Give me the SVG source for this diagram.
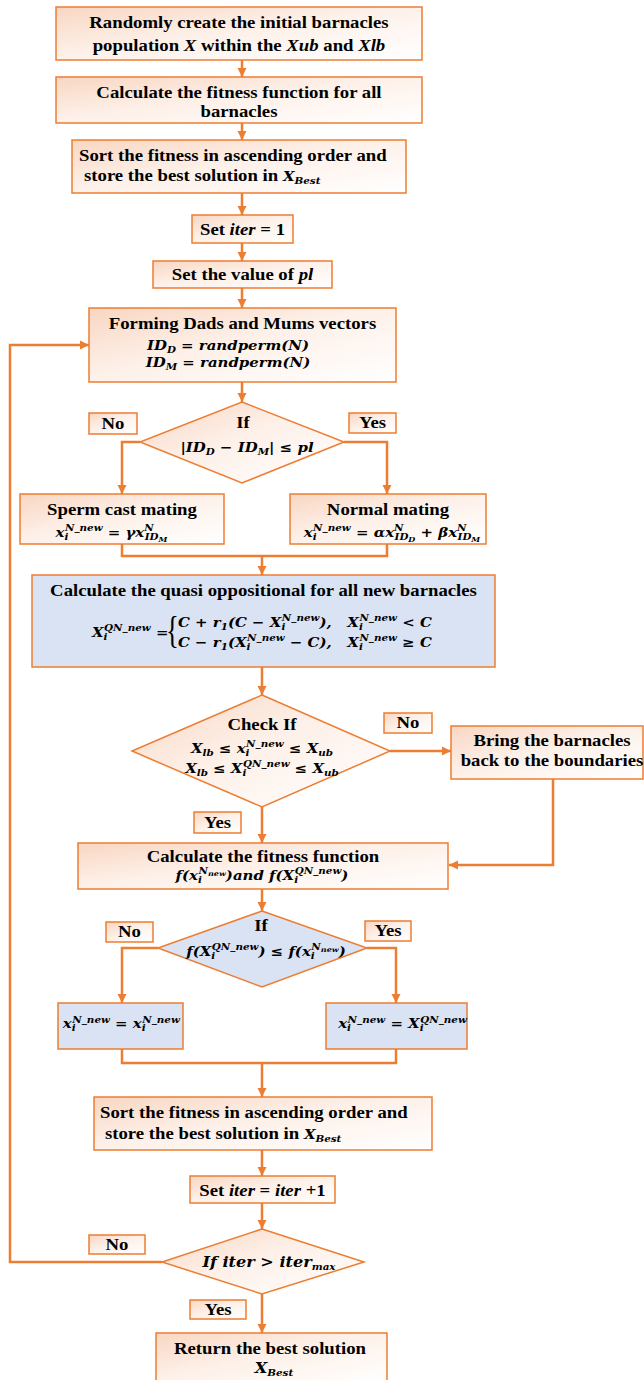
<svg xmlns="http://www.w3.org/2000/svg" width="644" height="1380" viewBox="0 0 644 1380">
<defs>
<linearGradient id="pg" x1="0" y1="0" x2="1" y2="1">
<stop offset="0" stop-color="#f9d6c2"/>
<stop offset="0.45" stop-color="#fdf0e8"/>
<stop offset="1" stop-color="#ffffff"/>
</linearGradient>
<marker id="ah" markerUnits="userSpaceOnUse" viewBox="0 0 10 10" refX="10" refY="5" markerWidth="9" markerHeight="10" orient="auto">
<path d="M0,0 L10,5 L0,10 z" fill="#ed7d31"/>
</marker>
<style>
.bx{fill:url(#pg);stroke:#ed7d31;stroke-width:1.5}
.bl{fill:#dae3f3;stroke:#ed7d31;stroke-width:1.5}
.lb{fill:url(#pg);stroke:#ed7d31;stroke-width:1.5}
.cn{fill:none;stroke:#ed7d31;stroke-width:2.5}
.ar{marker-end:url(#ah)}
.t{font-family:"Liberation Serif","Times New Roman",serif;font-weight:bold;font-size:16.3px;fill:#000}
.c{text-anchor:middle}
.i{font-style:italic}
.m{font-family:"DejaVu Serif",serif;font-weight:bold;font-style:italic;font-size:13px;fill:#000}
.s{font-size:9px}
.ss{font-size:7px}
.br{font-family:"Liberation Serif",serif;font-size:38px;fill:#000}
</style>
</defs>

<g id="connectors">
<path class="cn ar" d="M242,60 V77"/>
<path class="cn ar" d="M242,123 V140"/>
<path class="cn ar" d="M242,193 V215"/>
<path class="cn ar" d="M242,243 V261"/>
<path class="cn ar" d="M242,288 V308"/>
<path class="cn ar" d="M242,382 V402"/>
<path class="cn ar" d="M140,442 H122 V494"/>
<path class="cn ar" d="M344,442 H387 V494"/>
<path class="cn" d="M122,544 V556 H387 V544"/>
<path class="cn ar" d="M262,556 V575"/>
<path class="cn ar" d="M262,667 V695"/>
<path class="cn ar" d="M390,751 H451"/>
<path class="cn ar" d="M262,807 V843"/>
<path class="cn ar" d="M553,779 V865 H449"/>
<path class="cn ar" d="M262,889 V911"/>
<path class="cn ar" d="M158,948 H122 V1003"/>
<path class="cn ar" d="M367,948 H396 V1003"/>
<path class="cn" d="M122,1049 V1063 H396 V1049"/>
<path class="cn ar" d="M262,1063 V1097"/>
<path class="cn ar" d="M262,1150 V1176"/>
<path class="cn ar" d="M262,1203 V1229"/>
<path class="cn ar" d="M162,1262 H10 V345 H89"/>
<path class="cn ar" d="M262,1294 V1333"/>
</g>

<g id="n1"><rect class="bx" x="56" y="7" width="366" height="53"/>
<g transform="scale(1.15 1)">
<text class="t c" x="207.8" y="28">Randomly create the initial barnacles</text>
<text class="t c" x="207.8" y="51">population <tspan class="i">X</tspan> within the <tspan class="i">Xub</tspan> and <tspan class="i">Xlb</tspan></text>
</g></g>

<g id="n2"><rect class="bx" x="56" y="77" width="366" height="46"/>
<g transform="scale(1.15 1)">
<text class="t c" x="207.8" y="98">Calculate the fitness function for all</text>
<text class="t c" x="207.8" y="117">barnacles</text>
</g></g>

<g id="n3"><rect class="bx" x="72" y="140" width="334" height="53"/>
<g transform="scale(1.15 1)">
<text class="t" x="68.7" y="161">Sort the fitness in ascending order and</text>
<text class="t" x="73.04" y="181">store the best solution in <tspan class="m">X</tspan><tspan class="m s" dy="3">Best</tspan></text>
</g></g>

<g id="n4"><rect class="bx" x="192" y="215" width="101" height="28"/>
<g transform="scale(1.15 1)">
<text class="t c" x="210.87" y="235">Set <tspan class="i">iter</tspan> = 1</text>
</g></g>

<g id="n5"><rect class="bx" x="153" y="261" width="179" height="27"/>
<g transform="scale(1.15 1)">
<text class="t c" x="210.87" y="280">Set the value of <tspan class="i">pl</tspan></text>
</g></g>

<g id="n6"><rect class="bx" x="89" y="308" width="307" height="74"/>
<g transform="scale(1.15 1)">
<text class="t c" x="210.87" y="329">Forming Dads and Mums vectors</text>
<text class="m c" x="198.26" y="350">ID<tspan class="s" dy="3">D</tspan><tspan dy="-3"> = randperm(N)</tspan></text>
<text class="m c" x="198.26" y="367">ID<tspan class="s" dy="3">M</tspan><tspan dy="-3"> = randperm(N)</tspan></text>
</g></g>

<g id="d1"><polygon class="bx" points="242,402 344,442 242,483 140,442"/>
<g transform="scale(1.15 1)">
<text class="t c" x="211.3" y="428">If</text>
<text class="m c" x="214.78" y="452">|ID<tspan class="s" dy="3">D</tspan><tspan dy="-3"> − ID</tspan><tspan class="s" dy="3">M</tspan><tspan dy="-3">| ≤ pl</tspan></text>
</g></g>

<g id="l1"><rect class="lb" x="89" y="413" width="48" height="21"/>
<g transform="scale(1.15 1)"><text class="t c" x="98.26" y="429">No</text></g></g>
<g id="l2"><rect class="lb" x="349" y="413" width="47" height="20"/>
<g transform="scale(1.15 1)"><text class="t c" x="323.91" y="428.5">Yes</text></g></g>

<g id="n7"><rect class="bx" x="20" y="494" width="204" height="50"/>
<g transform="scale(1.15 1)">
<text class="t c" x="106.09" y="515">Sperm cast mating</text>
<text class="m c" x="96.96" y="537">x<tspan class="s" dy="3">i</tspan><tspan class="s" dx="-3" dy="-8.5">N_new</tspan><tspan dy="5.5"> = γx</tspan><tspan class="s" dy="-5.5">N</tspan><tspan class="s" dx="-7.8" dy="8.5">ID</tspan><tspan class="ss" dy="2">M</tspan></text>
</g></g>

<g id="n8"><rect class="bx" x="290" y="494" width="196" height="50"/>
<g transform="scale(1.15 1)">
<text class="t c" x="337.39" y="515">Normal mating</text>
<text class="m c" x="340.87" y="537">x<tspan class="s" dy="3">i</tspan><tspan class="s" dx="-3" dy="-8.5">N_new</tspan><tspan dy="5.5"> = αx</tspan><tspan class="s" dy="-5.5">N</tspan><tspan class="s" dx="-7.8" dy="8.5">ID</tspan><tspan class="ss" dy="2">D</tspan><tspan dy="-5"> + βx</tspan><tspan class="s" dy="-5.5">N</tspan><tspan class="s" dx="-7.8" dy="8.5">ID</tspan><tspan class="ss" dy="2">M</tspan></text>
</g></g>

<g id="n9"><rect class="bl" x="32" y="575" width="463" height="92"/>
<g transform="scale(1.15 1)">
<text class="t c" x="229.13" y="596">Calculate the quasi oppositional for all  new barnacles</text>
<text class="m" x="80" y="637">X<tspan class="s" dy="3">i</tspan><tspan class="s" dx="-3" dy="-8.5">QN_new</tspan><tspan dy="5.5"> =</tspan></text>
<text class="m" x="154.8" y="627">C + r<tspan class="s" dy="3">1</tspan><tspan dy="-3">(C − X</tspan><tspan class="s" dy="3">i</tspan><tspan class="s" dx="-3" dy="-8.5">N_new</tspan><tspan dy="5.5">),</tspan></text>
<text class="m" x="154.8" y="647">C − r<tspan class="s" dy="3">1</tspan><tspan dy="-3">(X</tspan><tspan class="s" dy="3">i</tspan><tspan class="s" dx="-3" dy="-8.5">N_new</tspan><tspan dy="5.5"> − C),</tspan></text>
<text class="m" x="302" y="627">X<tspan class="s" dy="3">i</tspan><tspan class="s" dx="-3" dy="-8.5">N_new</tspan><tspan dy="5.5"> &lt; C</tspan></text>
<text class="m" x="302" y="647">X<tspan class="s" dy="3">i</tspan><tspan class="s" dx="-3" dy="-8.5">N_new</tspan><tspan dy="5.5"> ≥ C</tspan></text>
</g>
<text class="br" transform="translate(166 0) scale(0.7 1)" x="0" y="643">{</text>
</g>

<g id="d2"><polygon class="bx" points="262,695 390,751 262,807 132,751"/>
<g transform="scale(1.15 1)">
<text class="t c" x="227.83" y="730">Check If</text>
<text class="m c" x="227.83" y="753">X<tspan class="s" dy="3">lb</tspan><tspan dy="-3"> ≤ x</tspan><tspan class="s" dy="3">i</tspan><tspan class="s" dx="-3" dy="-8.5">N_new</tspan><tspan dy="5.5"> ≤ X</tspan><tspan class="s" dy="3">ub</tspan></text>
<text class="m c" x="227.83" y="773">X<tspan class="s" dy="3">lb</tspan><tspan dy="-3"> ≤ X</tspan><tspan class="s" dy="3">i</tspan><tspan class="s" dx="-3" dy="-8.5">QN_new</tspan><tspan dy="5.5"> ≤ X</tspan><tspan class="s" dy="3">ub</tspan></text>
</g></g>

<g id="l3"><rect class="lb" x="384" y="713" width="48" height="20"/>
<g transform="scale(1.15 1)"><text class="t c" x="354.78" y="728">No</text></g></g>
<g id="l4"><rect class="lb" x="194" y="812" width="47" height="21"/>
<g transform="scale(1.15 1)"><text class="t c" x="189.13" y="828">Yes</text></g></g>

<g id="n10"><rect class="bx" x="451" y="726" width="192" height="53"/>
<g transform="scale(1.15 1)">
<text class="t c" x="480" y="746">Bring the barnacles</text>
<text class="t c" x="480" y="766">back to the boundaries</text>
</g></g>

<g id="n11"><rect class="bx" x="78" y="843" width="370" height="46"/>
<g transform="scale(1.15 1)">
<text class="t c" x="228.7" y="862">Calculate the fitness function</text>
<text class="m c" x="227.83" y="880">f(x<tspan class="s" dy="3">i</tspan><tspan class="s" dx="-3" dy="-8.5">N</tspan><tspan class="ss" dy="2">new</tspan><tspan dy="3.5">)and f(X</tspan><tspan class="s" dy="3">i</tspan><tspan class="s" dx="-3" dy="-8.5">QN_new</tspan><tspan dy="5.5">)</tspan></text>
</g></g>

<g id="d3"><polygon class="bl" points="262,911 367,948 262,987 158,948"/>
<g transform="scale(1.15 1)">
<text class="t c" x="226.96" y="931">If</text>
<text class="m c" x="231.3" y="956">f(X<tspan class="s" dy="3">i</tspan><tspan class="s" dx="-3" dy="-8.5">QN_new</tspan><tspan dy="5.5">) ≤ f(x</tspan><tspan class="s" dy="3">i</tspan><tspan class="s" dx="-3" dy="-8.5">N</tspan><tspan class="ss" dy="2">new</tspan><tspan dy="3.5">)</tspan></text>
</g></g>

<g id="l5"><rect class="lb" x="106" y="922" width="47" height="20"/>
<g transform="scale(1.15 1)"><text class="t c" x="112.61" y="937.5">No</text></g></g>
<g id="l6"><rect class="lb" x="365" y="921" width="46" height="20"/>
<g transform="scale(1.15 1)"><text class="t c" x="337.39" y="936.5">Yes</text></g></g>

<g id="n12"><rect class="bl" x="58" y="1003" width="125" height="46"/>
<g transform="scale(1.15 1)">
<text class="m c" x="105.5" y="1028">x<tspan class="s" dy="3">i</tspan><tspan class="s" dx="-3" dy="-8.5">N_new</tspan><tspan dy="5.5"> = x</tspan><tspan class="s" dy="3">i</tspan><tspan class="s" dx="-3" dy="-8.5">N_new</tspan></text>
</g></g>

<g id="n13"><rect class="bl" x="326" y="1003" width="141" height="46"/>
<g transform="scale(1.15 1)">
<text class="m c" x="350" y="1028">x<tspan class="s" dy="3">i</tspan><tspan class="s" dx="-3" dy="-8.5">N_new</tspan><tspan dy="5.5"> = X</tspan><tspan class="s" dy="3">i</tspan><tspan class="s" dx="-3" dy="-8.5">QN_new</tspan></text>
</g></g>

<g id="n14"><rect class="bx" x="94" y="1097" width="338" height="53"/>
<g transform="scale(1.15 1)">
<text class="t" x="86.96" y="1118">Sort the fitness in ascending order and</text>
<text class="t" x="91.3" y="1139">store the best solution in <tspan class="m">X</tspan><tspan class="m s" dy="3">Best</tspan></text>
</g></g>

<g id="n15"><rect class="bx" x="190" y="1176" width="145" height="27"/>
<g transform="scale(1.15 1)">
<text class="t c" x="228.26" y="1196">Set <tspan class="i">iter</tspan> = <tspan class="i">iter</tspan> +1</text>
</g></g>

<g id="d4"><polygon class="bx" points="262,1229 364,1262 262,1294 162,1262"/>
<g transform="scale(1.15 1)">
<text class="m c" x="233.91" y="1267" style="font-size:14px">If iter &gt; iter<tspan class="s" dy="3">max</tspan></text>
</g></g>

<g id="l7"><rect class="lb" x="89" y="1235" width="56" height="19"/>
<g transform="scale(1.15 1)"><text class="t c" x="101.74" y="1250">No</text></g></g>
<g id="l8"><rect class="lb" x="190" y="1300" width="56" height="19"/>
<g transform="scale(1.15 1)"><text class="t c" x="189.57" y="1315">Yes</text></g></g>

<g id="n16"><rect class="bx" x="156" y="1333" width="231" height="50"/>
<g transform="scale(1.15 1)">
<text class="t c" x="234.78" y="1354">Return the best solution</text>
<text class="m c" x="238.26" y="1373" style="font-size:14px">X<tspan class="s" dy="3">Best</tspan></text>
</g></g>
</svg>
